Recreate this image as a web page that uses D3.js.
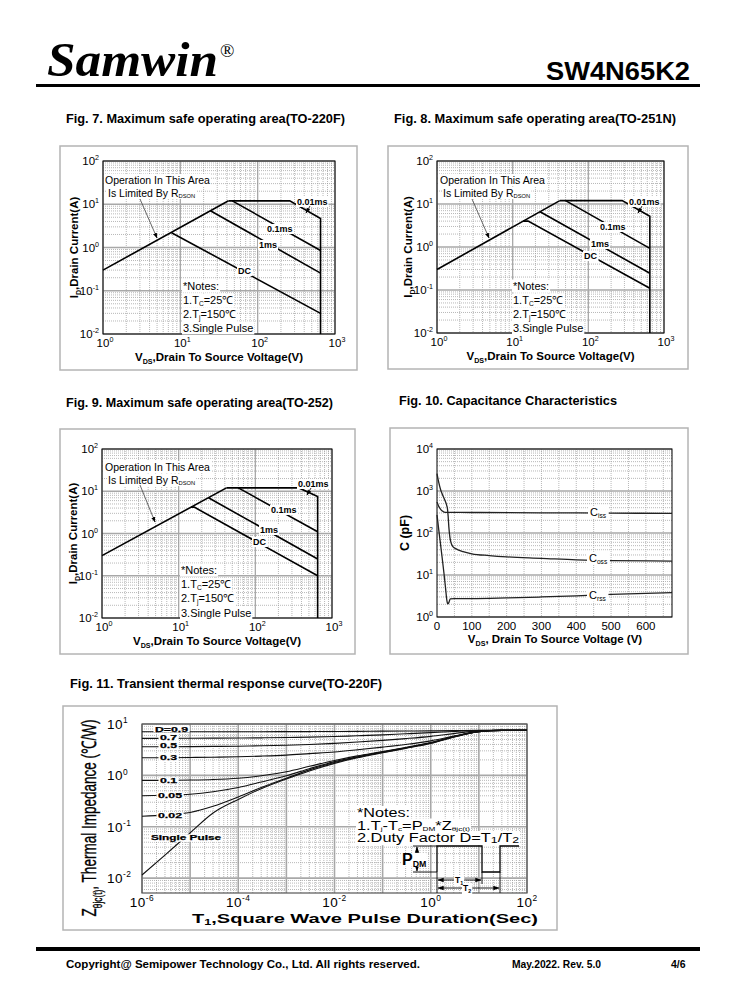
<!DOCTYPE html>
<html><head><meta charset="utf-8">
<script src="https://cdn.jsdelivr.net/npm/d3@7/dist/d3.min.js"></script>
<style>body{margin:0;background:#fff}svg{display:block}text{font-family:"Liberation Sans",Arial,sans-serif;fill:#000}</style>
</head><body><svg id="c" width="738" height="1000"></svg>
<script>
// ---------------- DATA ----------------
const soaXDomain = [1, 1000];
const soaYDomain = [0.01, 100];
const soaXTickExp = [0, 1, 2, 3];
const soaYTickExp = [-2, -1, 0, 1, 2];

// Fig 7 (TO-220F)  [Vds(V), Id(A)]
const fig7Rdson = [[1, 0.3], [42, 12]];
const fig7Us10  = [[42, 12], [260, 12], [650, 4.7], [650, 0.01]];
const fig7Us100 = [[47, 12], [650, 0.85]];
const fig7Ms1   = [[24.5, 7.1], [650, 0.255]];
const fig7Dc    = [[7.7, 2.2], [650, 0.03]];
// Fig 8 (TO-251N)
const fig8Rdson = [[1, 0.3], [42, 12]];
const fig8Us10  = [[42, 12], [280, 12], [650, 5.2], [650, 0.01]];
const fig8Us100 = [[50, 12], [650, 0.93]];
const fig8Ms1   = [[23, 6.6], [650, 0.245]];
const fig8Dc    = [[13.8, 4.0], [16, 4.0], [650, 0.11]];
// Fig 9 (TO-252)
const fig9Rdson = [[1, 0.3], [42, 12]];
const fig9Us10  = [[42, 12], [370, 12], [650, 7.5], [650, 0.01]];
const fig9Us100 = [[60, 12], [650, 1.1]];
const fig9Ms1   = [[24.5, 7.0], [650, 0.25]];
const fig9Dc    = [[14.5, 4.2], [16, 4.2], [650, 0.1]];

// Fig 10 capacitance [Vds(V), C(pF)]
const capXTicks = [0, 100, 200, 300, 400, 500, 600];
const capYTickExp = [0, 1, 2, 3, 4];
const ciss = [[0,550],[5,430],[10,370],[15,335],[20,315],[30,310],[100,308],[300,302],[500,298],[675,292]];
const coss = [[0,2600],[5,1600],[10,1100],[15,850],[22,620],[28,450],[30,380],[32,250],[34,140],[37,80],[40,60],[45,48],[55,42],[75,36],[100,32],[150,29],[200,27],[300,25],[400,23],[500,22],[675,21.5]];
const crss = [[0,270],[5,120],[10,55],[15,25],[20,11],[25,4.5],[28,2.6],[31,2.05],[34,2.2],[38,2.7],[50,2.75],[100,2.75],[200,2.85],[300,3.0],[400,3.2],[500,3.45],[675,3.8]];

// Fig 11 transient thermal impedance
const pulseT = [1e-6,3e-6,1e-5,3e-5,1e-4,3e-4,1e-3,3e-3,1e-2,3e-2,0.1,0.3,1,3,10,30,100];
const zD09 = [7.05,7.05,7.05,7.06,7.07,7.08,7.1,7.12,7.15,7.2,7.25,7.3,7.35,7.42,7.5,7.5,7.5];
const zD07 = [5.25,5.26,5.28,5.3,5.33,5.38,5.45,5.55,5.7,5.9,6.15,6.45,6.8,7.15,7.45,7.5,7.5];
const zD05 = [3.6,3.61,3.63,3.66,3.7,3.77,3.87,4.0,4.2,4.45,4.8,5.2,5.75,6.5,7.35,7.5,7.5];
const zD03 = [2.2,2.21,2.23,2.26,2.3,2.37,2.48,2.65,2.85,3.15,3.55,4.0,4.7,5.8,7.2,7.5,7.5];
const zD01 = [0.80,0.80,0.81,0.83,0.88,0.98,1.18,1.5,1.95,2.4,2.9,3.5,4.35,5.7,7.1,7.5,7.5];
const zD005 = [0.40,0.41,0.43,0.48,0.58,0.74,0.98,1.35,1.85,2.3,2.85,3.45,4.3,5.65,7.1,7.5,7.5];
const zD002 = [0.16,0.17,0.19,0.25,0.38,0.58,0.88,1.28,1.78,2.25,2.8,3.4,4.25,5.6,7.1,7.5,7.5];
const zSingle = [0.0115,0.028,0.076,0.185,0.34,0.55,0.85,1.22,1.71,2.2,2.75,3.35,4.2,5.55,7.05,7.5,7.5];
const thermXTickExp = [-6, -4, -2, 0, 2];
const thermYTickExp = [-2, -1, 0, 1];
const thermYDomain = [Math.pow(10, -2.29), 10];
const thermXDomain = [1e-6, 100];

// ---------------- HELPERS ----------------
const svg = d3.select('#c');
const defs = svg.append('defs');
defs.append('marker').attr('id','ah').attr('viewBox','0 0 10 10').attr('refX',9).attr('refY',5)
  .attr('markerWidth',7).attr('markerHeight',7).attr('orient','auto-start-reverse')
  .append('path').attr('d','M0,1.5L10,5L0,8.5z').attr('fill','#000');

function rich(parent, x, y, parts, size, attrs, subScale = 0.62, subShift = 0.28) {
  const t = parent.append('text').attr('x', x).attr('y', y).attr('font-size', size);
  if (attrs) for (const k in attrs) t.attr(k, attrs[k]);
  let cur = 0;
  parts.forEach(p => {
    const [str, kind] = typeof p === 'string' ? [p, 'n'] : p;
    const target = kind === 'sub' ? size * subShift : kind === 'sup' ? -size * 0.42 : 0;
    const s = t.append('tspan').text(str).attr('dy', target - cur);
    if (kind !== 'n') s.attr('font-size', size * subScale);
    cur = target;
  });
  return t;
}
// white background rect drawn into a layer that sits below all texts
function bg(layer, t, px, py) {
  const b = t.node().getBBox();
  layer.append('rect')
    .attr('x', b.x - px).attr('y', b.y - py).attr('width', b.width + 2 * px).attr('height', b.height + 2 * py)
    .attr('fill', '#fff');
  return t;
}
function logVals(dom) {
  const out = [];
  const lo = Math.floor(Math.log10(dom[0])), hi = Math.ceil(Math.log10(dom[1]));
  for (let k = lo; k <= hi; k++) for (let m = 1; m <= 9; m++) {
    const v = m * Math.pow(10, k);
    if (v >= dom[0] * 0.999 && v <= dom[1] * 1.001) out.push([v, m === 1]);
  }
  return out;
}
function gridV(g, x, vals, y0, y1, majW) {
  vals.forEach(([v, maj]) => g.append('line').attr('x1', x(v)).attr('x2', x(v)).attr('y1', y0).attr('y2', y1)
    .attr('stroke', maj ? '#a8a8a8' : '#9a9a9a').attr('stroke-width', maj ? (majW || 1.3) : 0.7)
    .attr('stroke-dasharray', maj ? null : '1,1'));
}
function gridH(g, y, vals, x0, x1, majW) {
  vals.forEach(([v, maj]) => g.append('line').attr('y1', y(v)).attr('y2', y(v)).attr('x1', x0).attr('x2', x1)
    .attr('stroke', maj ? '#a8a8a8' : '#9a9a9a').attr('stroke-width', maj ? (majW || 1.3) : 0.7)
    .attr('stroke-dasharray', maj ? null : '1,1'));
}
function frame(x, y, w, h) {
  svg.append('rect').attr('x', x).attr('y', y).attr('width', w).attr('height', h)
    .attr('fill', 'none').attr('stroke', '#b4b4b4').attr('stroke-width', 1.5);
}

// ---------------- PAGE HEADER / FOOTER ----------------
svg.append('text').attr('x', 47).attr('y', 76).attr('font-size', 48)
  .style('font-family', '"Liberation Serif","Times New Roman",serif').attr('font-weight', 'bold').attr('font-style', 'italic')
  .attr('textLength', 171).attr('lengthAdjust', 'spacingAndGlyphs').text('Samwin');
svg.append('text').attr('x', 220).attr('y', 57).attr('font-size', 19)
  .style('font-family', '"Liberation Serif","Times New Roman",serif').text('®');
svg.append('text').attr('x', 546).attr('y', 80).attr('font-size', 26).attr('font-weight', 'bold')
  .attr('textLength', 144).attr('lengthAdjust', 'spacingAndGlyphs').text('SW4N65K2');
svg.append('rect').attr('x', 36).attr('y', 84).attr('width', 664).attr('height', 3).attr('fill', '#000');

svg.append('rect').attr('x', 36).attr('y', 947).attr('width', 664).attr('height', 4).attr('fill', '#000');
svg.append('text').attr('x', 66).attr('y', 968).attr('font-size', 11.5).attr('font-weight', 'bold')
  .attr('textLength', 354).attr('lengthAdjust', 'spacingAndGlyphs').text('Copyright@ Semipower Technology Co., Ltd. All rights reserved.');
svg.append('text').attr('x', 512).attr('y', 968).attr('font-size', 10.5).attr('font-weight', 'bold')
  .attr('textLength', 89).attr('lengthAdjust', 'spacingAndGlyphs').text('May.2022. Rev. 5.0');
svg.append('text').attr('x', 671).attr('y', 968).attr('font-size', 10.5).attr('font-weight', 'bold').text('4/6');

// figure titles
[['Fig. 7. Maximum safe operating area(TO-220F)', 66, 123, 279],
 ['Fig. 8. Maximum safe operating area(TO-251N)', 394, 123, 282],
 ['Fig. 9. Maximum safe operating area(TO-252)', 66, 407, 267],
 ['Fig. 10. Capacitance Characteristics', 399, 405, 218],
 ['Fig. 11. Transient thermal response curve(TO-220F)', 70, 688, 312]].forEach(([s, x, y, w]) =>
  svg.append('text').attr('x', x).attr('y', y).attr('font-size', 12).attr('font-weight', 'bold')
    .attr('textLength', w).attr('lengthAdjust', 'spacingAndGlyphs').text(s));

// ---------------- SOA CHARTS ----------------
function soaChart(c) {
  frame(c.fx, c.fy, c.fw, c.fh);
  const g = svg.append('g');
  const x = d3.scaleLog().domain(soaXDomain).range([c.x0, c.x1]);
  const y = d3.scaleLog().domain(soaYDomain).range([c.y1, c.y0]);
  gridV(g, x, logVals(soaXDomain), c.y0, c.y1);
  gridH(g, y, logVals(soaYDomain), c.x0, c.x1);
  g.append('rect').attr('x', c.x0).attr('y', c.y0).attr('width', c.x1 - c.x0).attr('height', c.y1 - c.y0)
    .attr('fill', 'none').attr('stroke', '#000').attr('stroke-width', 1);
  const line = d3.line().x(d => x(d[0])).y(d => y(d[1]));
  c.series.forEach(s => g.append('path').attr('d', line(s)).attr('fill', 'none')
    .attr('stroke', '#000').attr('stroke-width', 1.6).attr('stroke-linejoin', 'miter'));
  const bgL = g.append('g');
  soaYTickExp.forEach(e => rich(g, c.x0 - 4, y(Math.pow(10, e)) + 4, ['10', [String(e), 'sup']], 11.5, {'text-anchor': 'end'}));
  soaXTickExp.forEach(e => rich(g, x(Math.pow(10, e)) + 2, c.y1 + 13, ['10', [String(e), 'sup']], 11.5, {'text-anchor': 'middle'}));
  rich(g, (c.x0 + c.x1) / 2, c.y1 + 27, ['V', ['DS', 'sub'], ',Drain To Source Voltage(V)'], 11.5,
    {'text-anchor': 'middle', 'font-weight': 'bold'});
  const yt = rich(g, 0, 0, ['I', ['D', 'sub'], ',Drain Current(A)'], 11.5, {'text-anchor': 'middle', 'font-weight': 'bold'});
  yt.attr('transform', `translate(${c.x0 - 25},${(c.y0 + c.y1) / 2}) rotate(-90)`);
  // labels
  const L = c.lab;
  bg(bgL, rich(g, L.us10[0], L.us10[1], ['0.01ms'], 9, {'font-weight': 'bold'}), 1, 0);
  g.append('line').attr('x1', L.us10[0] + 13).attr('y1', L.us10[1] + 1).attr('x2', L.us10[0] + 9).attr('y2', L.us10[1] + 8)
    .attr('stroke', '#000').attr('stroke-width', 0.8).attr('marker-end', 'url(#ah)');
  bg(bgL, rich(g, L.us100[0], L.us100[1], ['0.1ms'], 9, {'font-weight': 'bold'}), 1, 0);
  bg(bgL, rich(g, L.ms1[0], L.ms1[1], ['1ms'], 9, {'font-weight': 'bold'}), 1, 0);
  bg(bgL, rich(g, L.dc[0], L.dc[1], ['DC'], 9, {'font-weight': 'bold'}), 1, 0);
  bg(bgL, rich(g, L.op[0], L.op[1], ['Operation In This Area'], 10.5, {}), 1, 0);
  bg(bgL, rich(g, L.op[0] + 3, L.op[1] + 12.5, ['Is Limited By R', ['DSON', 'sub']], 10.5, {}, 0.55, 0.15), 1, 0);
  g.append('line').attr('x1', L.arr[0]).attr('y1', L.arr[1]).attr('x2', L.arr[2]).attr('y2', L.arr[3])
    .attr('stroke', '#444').attr('stroke-width', 0.8).attr('marker-end', 'url(#ah)');
  const notes = [['*Notes:'], ['1.T', ['C', 'sub'], '=25℃'], ['2.T', ['j', 'sub'], '=150℃'], ['3.Single Pulse']];
  notes.forEach((n, i) => bg(bgL, rich(g, L.notes[0], L.notes[1] + i * L.notes[2], n, 11, {}, 0.6, 0.18), 1, 0.5));
}

soaChart({fx: 60, fy: 146, fw: 297, fh: 224, x0: 103, x1: 335, y0: 161, y1: 334,
  series: [fig7Rdson, fig7Us10, fig7Us100, fig7Ms1, fig7Dc],
  lab: {us10: [297, 205], us100: [267, 232], ms1: [259, 248], dc: [238, 274],
        op: [105, 184], arr: [140, 199, 157, 238], notes: [183, 290, 14]}});
soaChart({fx: 388, fy: 146, fw: 300, fh: 223, x0: 437, x1: 664, y0: 161, y1: 333,
  series: [fig8Rdson, fig8Us10, fig8Us100, fig8Ms1, fig8Dc],
  lab: {us10: [629, 205], us100: [600, 230], ms1: [591, 247], dc: [584, 259],
        op: [440, 184], arr: [472, 199, 489, 238], notes: [513, 290, 14]}});
soaChart({fx: 60, fy: 429, fw: 295, fh: 225, x0: 102, x1: 332, y0: 449, y1: 618,
  series: [fig9Rdson, fig9Us10, fig9Us100, fig9Ms1, fig9Dc],
  lab: {us10: [298, 487], us100: [271, 513], ms1: [260, 533], dc: [253, 545],
        op: [105, 471], arr: [140, 485, 155, 522], notes: [181, 574, 14.2]}});

// ---------------- FIG 10 CAPACITANCE ----------------
(function () {
  frame(390, 428, 298, 226);
  const g = svg.append('g');
  const x0 = 437, x1 = 672, y0 = 449, y1 = 617;
  const x = d3.scaleLinear().domain([0, 675]).range([x0, x1]);
  const y = d3.scaleLog().domain([1, 1e4]).range([y1, y0]);
  d3.range(50, 675, 50).forEach(v => g.append('line').attr('x1', x(v)).attr('x2', x(v)).attr('y1', y0).attr('y2', y1)
    .attr('stroke', '#9a9a9a').attr('stroke-width', 0.7).attr('stroke-dasharray', '1,1'));
  gridH(g, y, logVals([1, 1e4]), x0, x1);
  g.append('rect').attr('x', x0).attr('y', y0).attr('width', x1 - x0).attr('height', y1 - y0)
    .attr('fill', 'none').attr('stroke', '#000').attr('stroke-width', 1);
  const line = d3.line().x(d => x(d[0])).y(d => y(d[1])).curve(d3.curveMonotoneX);
  [ciss, coss, crss].forEach(s => g.append('path').attr('d', line(s)).attr('fill', 'none')
    .attr('stroke', '#222').attr('stroke-width', 1.3));
  const bgL = g.append('g');
  capYTickExp.forEach(e => rich(g, x0 - 4, y(Math.pow(10, e)) + 4, ['10', [String(e), 'sup']], 11.5, {'text-anchor': 'end'}));
  capXTicks.forEach(v => rich(g, x(v), y1 + 13, [String(v)], 11.5, {'text-anchor': 'middle'}));
  rich(g, 555, y1 + 26, ['V', ['DS', 'sub'], ', Drain To Source Voltage (V)'], 11.5, {'text-anchor': 'middle', 'font-weight': 'bold'});
  rich(g, 0, 0, ['C (pF)'], 12.5, {'text-anchor': 'middle', 'font-weight': 'bold'})
    .attr('transform', `translate(409,${(y0 + y1) / 2}) rotate(-90)`);
  bg(bgL, rich(g, 590, 516, ['C', ['iss', 'sub']], 11, {}, 0.6, 0.15), 2, 0);
  bg(bgL, rich(g, 589, 562, ['C', ['oss', 'sub']], 11, {}, 0.6, 0.15), 2, 0);
  bg(bgL, rich(g, 589, 599, ['C', ['rss', 'sub']], 11, {}, 0.6, 0.15), 2, 0);
})();

// ---------------- FIG 11 THERMAL ----------------
(function () {
  frame(63, 706, 494, 224);
  const g = svg.append('g');
  const x0 = 142, x1 = 527, y0 = 724, y1 = 893;
  const x = d3.scaleLog().domain(thermXDomain).range([x0, x1]);
  const y = d3.scaleLog().domain(thermYDomain).range([y1, y0]);
  gridV(g, x, logVals(thermXDomain), y0, y1, 1.6);
  gridH(g, y, logVals(thermYDomain), x0, x1, 1.6);
  g.append('rect').attr('x', x0).attr('y', y0).attr('width', x1 - x0).attr('height', y1 - y0)
    .attr('fill', 'none').attr('stroke', '#555').attr('stroke-width', 1.2);
  const line = d3.line().x(d => x(d[0])).y(d => y(d[1])).curve(d3.curveMonotoneX);
  [zD09, zD07, zD05, zD03, zD01, zD005, zD002, zSingle].forEach(s =>
    g.append('path').attr('d', line(pulseT.map((t, i) => [t, s[i]]))).attr('fill', 'none')
      .attr('stroke', '#111').attr('stroke-width', 1.1));
  const bgL = g.append('g');
  // curve labels
  [['D=0.9', 155, 731.5, 33], ['0.7', 160, 740, 17], ['0.5', 160, 748, 17], ['0.3', 160, 760, 17],
   ['0.1', 160, 783, 17], ['0.05', 158, 798, 24], ['0.02', 158, 818, 24], ['Single Pulse', 151, 840, 70]]
    .forEach(([s, lx, ly, w]) => bg(bgL, g.append('text').attr('x', lx).attr('y', ly).attr('font-size', 7)
      .attr('font-weight', 'bold').attr('stroke', '#000').attr('stroke-width', 0.25)
      .attr('textLength', w).attr('lengthAdjust', 'spacingAndGlyphs').text(s), 1.5, -0.3));
  // ticks
  thermYTickExp.forEach(e => rich(g, 107, y(Math.pow(10, e)) + 5, ['10', [String(e), 'sup']], 13.5, {'letter-spacing': 0.5}));
  thermXTickExp.forEach(e => rich(g, x(Math.pow(10, e)), y1 + 14, ['10', [String(e), 'sup']], 13.5,
    {'text-anchor': 'middle', 'letter-spacing': 0.5}));
  g.append('text').attr('x', 192).attr('y', 923).attr('font-size', 13.5).attr('font-weight', 'bold')
    .attr('textLength', 346).attr('lengthAdjust', 'spacingAndGlyphs')
    .call(t => { t.append('tspan').text('T'); t.append('tspan').attr('font-size', 8.5).attr('dy', 2).text('1');
                 t.append('tspan').attr('dy', -2).text(',Square Wave Pulse Duration(Sec)'); });
  const yt = rich(g, 0, 0, ['Z', ['θjc(t)', 'sub'], ', Thermal Impedance (℃/W)'], 20,
    {'text-anchor': 'middle', 'stroke': '#000', 'stroke-width': 0.35});
  yt.attr('transform', 'translate(96,818) rotate(-90)').attr('textLength', 197).attr('lengthAdjust', 'spacingAndGlyphs');
  // notes
  bg(bgL, g.append('text').attr('x', 357).attr('y', 817).attr('font-size', 12).attr('textLength', 53)
    .attr('lengthAdjust', 'spacingAndGlyphs').text('*Notes:'), 1, 0);
  bg(bgL, rich(g, 357, 829.5, ['1.T', ['j', 'sub'], '-T', ['c', 'sub'], '=P', ['DM', 'sub'], '*Z', ['θjc(t)', 'sub']], 12,
    {'textLength': 113, 'lengthAdjust': 'spacingAndGlyphs'}, 0.5, 0.1), 1, 0);
  bg(bgL, rich(g, 357, 842, ['2.Duty Factor D=T', ['1', 'sub'], '/T', ['2', 'sub']], 12,
    {'textLength': 162, 'lengthAdjust': 'spacingAndGlyphs'}, 0.75, 0.1), 1, 0);
  // pulse diagram
  const hi = 846, lo = 872;
  const pd = g.append('g').attr('stroke', '#000').attr('fill', 'none');
  pd.append('path').attr('stroke-width', 1.3)
    .attr('d', `M437,${lo}V${hi}H482V${lo}H500V${hi}H519`);
  pd.append('path').attr('stroke-width', 0.9).attr('d', `M413,${hi}H437M413,${lo}H437M437,${lo}V${y1}M482,${lo}V884M500,${lo}V${y1}`);
  pd.append('line').attr('x1', 417).attr('y1', 853).attr('x2', 417).attr('y2', hi + 1).attr('stroke-width', 0.9).attr('marker-end', 'url(#ah)');
  pd.append('line').attr('x1', 417).attr('y1', 866).attr('x2', 417).attr('y2', lo - 1).attr('stroke-width', 0.9).attr('marker-end', 'url(#ah)');
  pd.append('line').attr('x1', 438).attr('y1', 880).attr('x2', 481).attr('y2', 880).attr('stroke-width', 0.9)
    .attr('marker-start', 'url(#ah)').attr('marker-end', 'url(#ah)');
  pd.append('line').attr('x1', 438).attr('y1', 888).attr('x2', 499).attr('y2', 888).attr('stroke-width', 0.9)
    .attr('marker-start', 'url(#ah)').attr('marker-end', 'url(#ah)');
  const tl = g.append('g');
  bg(tl, rich(g, 455, 883, ['T', ['1', 'sub']], 8.5, {'font-weight': 'bold'}), 1, 0);
  bg(tl, rich(g, 463, 891, ['T', ['2', 'sub']], 8.5, {'font-weight': 'bold'}), 1, 0);
  bg(tl, rich(g, 402, 865, ['P', ['DM', 'sub']], 16, {'font-weight': 'bold'}, 0.55, 0.1), 0.5, -2);
})();
</script></body></html>
